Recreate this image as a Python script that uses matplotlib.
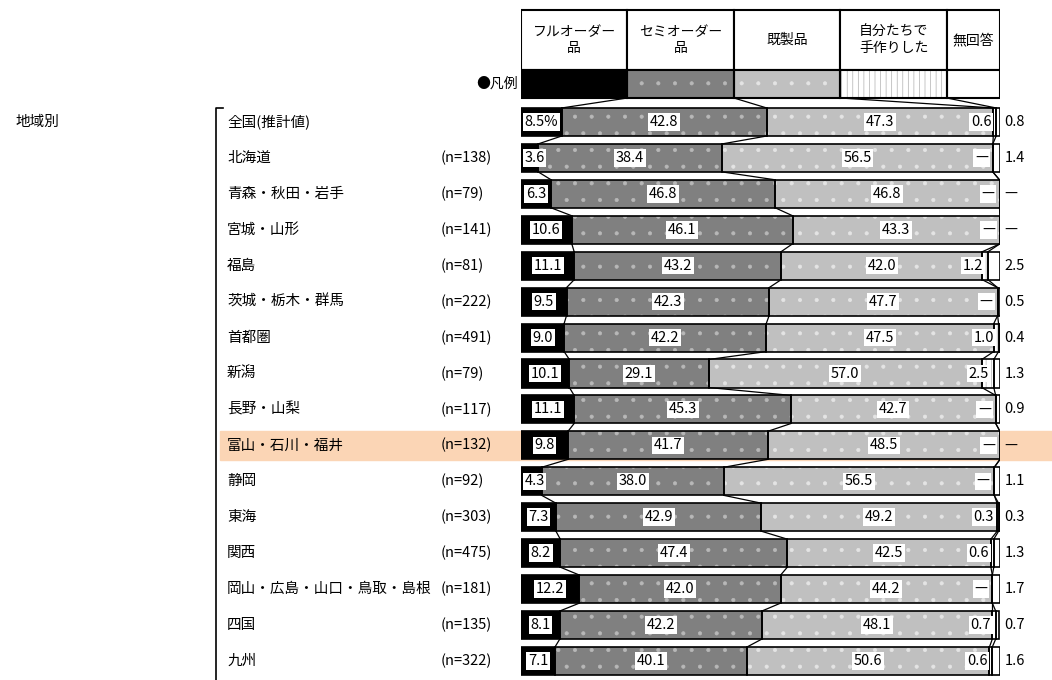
import matplotlib.pyplot as plt
import numpy as np
from matplotlib import transforms
from matplotlib.patches import Rectangle

plt.rcParams['font.family'] = ['Noto Sans CJK JP', 'DejaVu Sans']
plt.rcParams['hatch.linewidth'] = 0.5

legend_labels = ['フルオーダー\n品', 'セミオーダー\n品', '既製品', '自分たちで\n手作りした', '無回答']
regions = ['全国(推計値)', '北海道', '青森・秋田・岩手', '宮城・山形', '福島', '茨城・栃木・群馬',
           '首都圏', '新潟', '長野・山梨', '富山・石川・福井', '静岡', '東海', '関西',
           '岡山・広島・山口・鳥取・島根', '四国', '九州']
n_counts = [None, 138, 79, 141, 81, 222, 491, 79, 117, 132, 92, 303, 475, 181, 135, 322]

full = [8.5, 3.6, 6.3, 10.6, 11.1, 9.5, 9.0, 10.1, 11.1, 9.8, 4.3, 7.3, 8.2, 12.2, 8.1, 7.1]
semi = [42.8, 38.4, 46.8, 46.1, 43.2, 42.3, 42.2, 29.1, 45.3, 41.7, 38.0, 42.9, 47.4, 42.0, 42.2, 40.1]
ready = [47.3, 56.5, 46.8, 43.3, 42.0, 47.7, 47.5, 57.0, 42.7, 48.5, 56.5, 49.2, 42.5, 44.2, 48.1, 50.6]
handmade = [0.6, None, None, None, 1.2, None, 1.0, 2.5, None, None, None, 0.3, 0.6, None, 0.7, 0.6]
no_answer = [0.8, 1.4, None, None, 2.5, 0.5, 0.4, 1.3, 0.9, None, 1.1, 0.3, 1.3, 1.7, 0.7, 1.6]
highlight = '富山・石川・福井'

W, H = 1052, 680
fig = plt.figure(figsize=(W / 100, H / 100), dpi=100)
ax = fig.add_axes([521 / W, 0, 479 / W, 1])
ax.set_xlim(0, 100)
ax.set_ylim(15.53, -3.395)
ax.axis('off')
trans = transforms.blended_transform_factory(fig.transFigure, ax.transData)

series = [full, semi, ready, handmade, no_answer]
vals = np.array([[v if v is not None else 0 for v in s] for s in series]).T
cum = np.cumsum(vals, axis=1)
left = cum - vals
y = np.arange(len(regions))
h = 0.78

# face colour, hatch, hatch colour
styles = [('black', None, 'black'),
          ('#808080', '.', '#b8b8b8'),
          ('#c0c0c0', '.', '#e4e4e4'),
          ('white', '|||', '#b0b0b0'),
          ('white', None, 'white')]

for k, (fc, hatch, hc) in enumerate(styles):
    ax.barh(y, vals[:, k], left=left[:, k], height=h, color=fc, hatch=hatch,
            edgecolor=hc, linewidth=0, zorder=2)
    ax.barh(y, vals[:, k], left=left[:, k], height=h, fill=False,
            edgecolor='black', linewidth=1.2, zorder=3)

# connector lines between rows
for i in range(len(regions) - 1):
    for k in range(4):
        ax.plot([cum[i, k], cum[i + 1, k]], [i + h / 2, i + 1 - h / 2],
                color='black', lw=0.9, zorder=3)

# header table + legend row
col_w = np.array([2, 2, 2, 2, 1]) / 9 * 100
col_right = np.cumsum(col_w)
col_left = col_right - col_w
head_top, head_bot, leg_bot = -3.117, -1.447, -0.668
ax.barh((head_top + head_bot) / 2, col_w, left=col_left, height=head_bot - head_top,
        color='white', edgecolor='black', linewidth=1.5, zorder=2)
for k, (fc, hatch, hc) in enumerate(styles):
    ax.barh((head_bot + leg_bot) / 2, col_w[k], left=col_left[k], height=leg_bot - head_bot,
            color=fc, hatch=hatch, edgecolor=hc, linewidth=0, zorder=2)
ax.barh((head_bot + leg_bot) / 2, col_w, left=col_left, height=leg_bot - head_bot,
        fill=False, edgecolor='black', linewidth=1.5, zorder=3)
for k, lab in enumerate(legend_labels):
    ax.text(col_left[k] + col_w[k] / 2, (head_top + head_bot) / 2, lab, ha='center',
            va='center', fontsize=10, linespacing=1.25, zorder=4)
for k in range(4):
    ax.plot([col_right[k], cum[0, k]], [leg_bot, -h / 2], color='black', lw=0.9, zorder=3)
ax.text(-0.6, (head_bot + leg_bot) / 2, '●凡例', ha='right', va='center', fontsize=10)

# value labels
fs = 10.5
box = dict(boxstyle='square,pad=0.12', fc='white', ec='none')
for i in range(len(regions)):
    txt = f'{full[i]:.1f}' + ('%' if i == 0 else '')
    ax.text(max(full[i] / 2, 2.8), i, txt, ha='center', va='center', fontsize=fs,
            bbox=box, zorder=5)
    ax.text(left[i, 1] + vals[i, 1] / 2, i, f'{semi[i]:.1f}', ha='center', va='center',
            fontsize=fs, bbox=box, zorder=5)
    ax.text(left[i, 2] + vals[i, 2] / 2, i, f'{ready[i]:.1f}', ha='center', va='center',
            fontsize=fs, bbox=box, zorder=5)
    hm = '—' if handmade[i] is None else f'{handmade[i]:.1f}'
    ax.text(cum[i, 3] - 1.0, i, hm, ha='right', va='center', fontsize=fs, bbox=box, zorder=5)
    na = '—' if no_answer[i] is None else f'{no_answer[i]:.1f}'
    ax.text(100.9, i, na, ha='left', va='center', fontsize=fs, clip_on=False, zorder=5)

# left side labels
for i, name in enumerate(regions):
    ax.text(227 / W, i, name, transform=trans, ha='left', va='center', fontsize=10.5)
    if n_counts[i] is not None:
        ax.text(441 / W, i, f'(n={n_counts[i]})', transform=trans, ha='left',
                va='center', fontsize=10.5)
ax.text(15 / W, 0, '地域別', transform=trans, ha='left', va='center', fontsize=10.5)
ax.plot([223 / W, 216 / W, 216 / W], [-h / 2, -h / 2, 16], transform=trans,
        color='black', lw=1.2, clip_on=False)

hi = regions.index(highlight)
ax.add_patch(Rectangle((220 / W, hi - 0.4), 1 - 220 / W, 0.8, transform=trans,
                       color='#fbd5b5', zorder=0, clip_on=False))

fig.savefig('out.png', dpi=100)
